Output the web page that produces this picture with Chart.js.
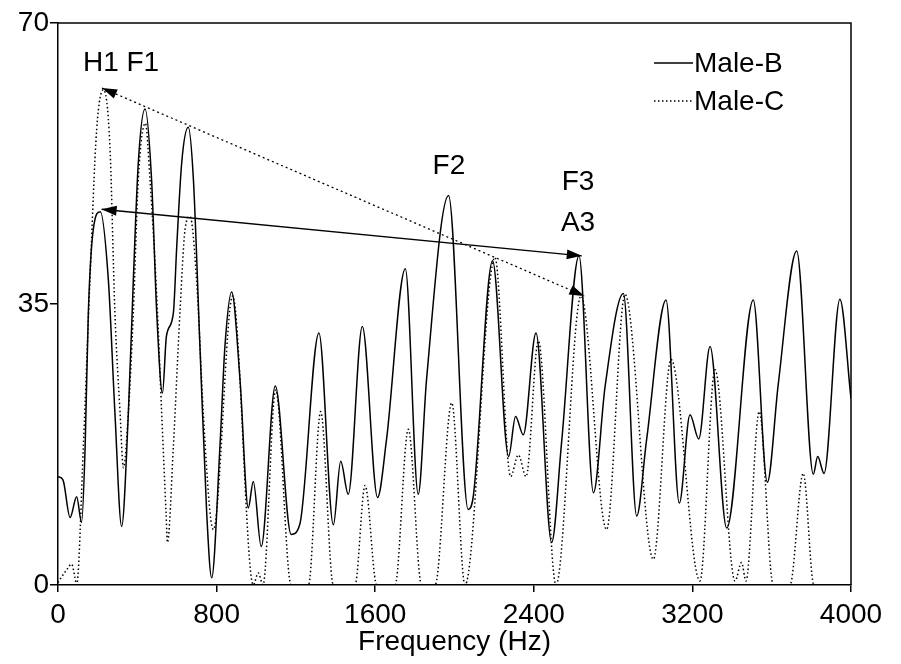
<!DOCTYPE html>
<html>
<head>
<meta charset="utf-8">
<script src="https://cdn.jsdelivr.net/npm/chart.js@4.4.1/dist/chart.umd.min.js"></script>
<style>
html, body { margin: 0; padding: 0; background: #fff; }
</style>
</head>
<body>
<canvas id="spectrumChart" width="901" height="664"></canvas>
<script>
// Male-B (solid) spectrum, frequency in Hz / amplitude
var freqB = [0, 25, 61, 94, 119, 137, 153, 178, 213, 254, 287, 321, 355, 380, 405, 439, 472, 498, 527, 547,
  582, 599, 624, 657, 683, 716, 750, 775, 817, 842, 876, 918, 960, 985, 1025, 1096, 1176, 1220, 1316, 1389,
  1426, 1464, 1535, 1612, 1657, 1752, 1817, 1859, 1970, 2069, 2095, 2192, 2273, 2308, 2347, 2411, 2490, 2540, 2628, 2701,
  2760, 2852, 2919, 2969, 3067, 3134, 3188, 3232, 3289, 3373, 3507, 3578, 3633, 3726, 3810, 3832, 3864, 3944, 4000];
var maleB = [13.5, 13.1, 8.4, 11.0, 7.8, 17.3, 33.9, 44.3, 46.5, 38.0, 21.5, 7.3, 21.5, 38.0, 52.6, 59.3, 50.5, 33.9, 23.9, 31.0,
  33.9, 42.2, 52.6, 57.0, 50.5, 29.7, 9.0, 0.9, 17.3, 29.7, 36.5, 25.6, 9.6, 12.9, 4.8, 24.8, 6.3, 7.6, 31.4, 7.5,
  15.4, 11.3, 32.2, 10.9, 18.1, 39.4, 11.3, 25.6, 48.5, 9.4, 11.1, 40.4, 16.0, 21.0, 18.7, 31.4, 5.3, 17.7, 41.0, 11.5,
  24.8, 36.3, 8.6, 18.1, 35.5, 10.2, 21.2, 18.2, 29.7, 7.1, 35.5, 12.8, 25.0, 41.6, 13.8, 16.0, 13.9, 35.6, 23.2];

// Male-C (dotted) spectrum
var freqC = [0, 10, 44, 69, 85, 94, 128, 161, 195, 229, 262, 287, 313, 330, 355, 380, 405, 441, 464, 498,
  523, 545, 552, 582, 615, 641, 666, 699, 733, 767, 784, 881, 985, 1010, 1034, 1098, 1176, 1263, 1325, 1389,
  1498, 1549, 1608, 1700, 1767, 1834, 1902, 1986, 2053, 2204, 2283, 2322, 2361, 2423, 2512, 2638, 2767, 2860, 3003, 3092,
  3238, 3314, 3415, 3448, 3470, 3537, 3608, 3692, 3759, 3813, 4000];
var maleC = [0.3, 0.7, 1.9, 2.6, 1.0, 0, 17.3, 38.0, 56.7, 61.7, 54.6, 34.0, 21.5, 14.6, 21.5, 33.9, 50.5, 57.5, 50.5, 36.0,
  21.4, 9.0, 5.3, 17.3, 33.9, 44.3, 45.9, 38.0, 21.4, 9.0, 6.9, 36.0, 0, 1.5, 0, 24.3, 0, 0, 21.6, 0,
  0, 12.4, 0, 0, 19.4, 0, 0, 22.7, 0, 40.8, 13.5, 16.2, 13.5, 30.4, 0, 36.0, 6.9, 36.2, 3.2, 28.1,
  0.5, 26.8, 0.5, 2.8, 0.5, 21.6, 0, 0, 13.9, 0, 0];

var xTicks = [0, 800, 1600, 2400, 3200, 4000];
var yTicks = [0, 35, 70];

// peak annotations (Hz, amplitude)
var peakLabels = ['H1 F1', 'F2', 'F3', 'A3'];
var peakLabelFreq = [318, 1972, 2623, 2623];
var peakLabelAmp = [65.0, 52.1, 50.2, 45.0];

// double arrows between peaks [Hz, amplitude]
var arrowB = [[220, 46.8], [2642, 41.0]];
var arrowC = [[222, 61.9], [2655, 36.0]];

var FONT = "'Liberation Sans', Arial, sans-serif";

function toPoints(xs, ys) {
  return xs.map(function (x, i) { return { x: x, y: ys[i] }; });
}

function arrowHead(ctx, tx, ty, fx, fy) {
  var ang = Math.atan2(ty - fy, tx - fx);
  var len = 15, half = 5;
  ctx.beginPath();
  ctx.moveTo(tx, ty);
  ctx.lineTo(tx - len * Math.cos(ang) + half * Math.sin(ang), ty - len * Math.sin(ang) - half * Math.cos(ang));
  ctx.lineTo(tx - len * Math.cos(ang) - half * Math.sin(ang), ty - len * Math.sin(ang) + half * Math.cos(ang));
  ctx.closePath();
  ctx.fill();
}

function drawArrow(ctx, xs, ys, ends, dash) {
  var x1 = xs.getPixelForValue(ends[0][0]), y1 = ys.getPixelForValue(ends[0][1]);
  var x2 = xs.getPixelForValue(ends[1][0]), y2 = ys.getPixelForValue(ends[1][1]);
  ctx.save();
  ctx.strokeStyle = '#000';
  ctx.fillStyle = '#000';
  ctx.lineWidth = 1.3;
  ctx.setLineDash(dash);
  ctx.beginPath();
  ctx.moveTo(x1, y1);
  ctx.lineTo(x2, y2);
  ctx.stroke();
  ctx.setLineDash([]);
  arrowHead(ctx, x1, y1, x2, y2);
  arrowHead(ctx, x2, y2, x1, y1);
  ctx.restore();
}

var extras = {
  id: 'extras',
  afterDatasetsDraw: function (chart) {
    var ctx = chart.ctx;
    var a = chart.chartArea;
    var xs = chart.scales.x, ys = chart.scales.y;

    // top and right frame
    ctx.save();
    ctx.strokeStyle = '#000';
    ctx.lineWidth = 1.5;
    ctx.beginPath();
    ctx.moveTo(a.left, a.top);
    ctx.lineTo(a.right, a.top);
    ctx.lineTo(a.right, a.bottom);
    ctx.stroke();
    ctx.restore();

    drawArrow(ctx, xs, ys, arrowB, []);
    drawArrow(ctx, xs, ys, arrowC, [2, 3]);

    ctx.save();
    ctx.fillStyle = '#000';
    ctx.font = '28px ' + FONT;
    ctx.textAlign = 'center';
    ctx.textBaseline = 'middle';
    peakLabels.forEach(function (t, i) {
      ctx.fillText(t, xs.getPixelForValue(peakLabelFreq[i]), ys.getPixelForValue(peakLabelAmp[i]));
    });

    // legend, top right
    ctx.textAlign = 'left';
    chart.data.datasets.forEach(function (ds, i) {
      var y = 63 + i * 38;
      ctx.strokeStyle = '#000';
      ctx.lineWidth = 1.3;
      ctx.setLineDash(ds.borderDash || []);
      ctx.beginPath();
      ctx.moveTo(654, y);
      ctx.lineTo(693, y);
      ctx.stroke();
      ctx.setLineDash([]);
      ctx.fillText(ds.label, 694, y + 1);
    });
    ctx.restore();
  }
};

var ctx = document.getElementById('spectrumChart').getContext('2d');
var spectrumChart = new Chart(ctx, {
  type: 'line',
  data: {
    datasets: [{
      label: 'Male-B',
      data: toPoints(freqB, maleB),
      borderColor: '#000',
      borderWidth: 1.5,
      pointRadius: 0,
      cubicInterpolationMode: 'monotone'
    }, {
      label: 'Male-C',
      data: toPoints(freqC, maleC),
      borderColor: '#000',
      borderWidth: 1.5,
      borderDash: [1.5, 2.5],
      pointRadius: 0,
      cubicInterpolationMode: 'monotone'
    }]
  },
  options: {
    responsive: false,
    animation: false,
    devicePixelRatio: 1,
    layout: { padding: { top: 23, right: 50, left: 0, bottom: 0 } },
    plugins: { legend: { display: false }, tooltip: { enabled: false } },
    scales: {
      x: {
        type: 'linear',
        min: 0,
        max: 4000,
        afterBuildTicks: function (s) { s.ticks = xTicks.map(function (v) { return { value: v }; }); },
        afterFit: function (s) { s.height = 79; },
        ticks: { color: '#000', padding: 6, maxRotation: 0, font: { family: FONT, size: 28 },
          callback: function (v) { return String(v); } },
        grid: { drawOnChartArea: false, drawTicks: true, tickLength: 7, color: '#000', lineWidth: 1.5 },
        border: { display: true, color: '#000', width: 1.5 },
        title: { display: true, text: 'Frequency (Hz)', color: '#000', font: { family: FONT, size: 28 }, padding: { top: 0, bottom: 5 } }
      },
      y: {
        min: 0,
        max: 70,
        afterBuildTicks: function (s) { s.ticks = yTicks.map(function (v) { return { value: v }; }); },
        afterFit: function (s) { s.width = 58; },
        ticks: { color: '#000', padding: 1, font: { family: FONT, size: 28 },
          callback: function (v) { return String(v); } },
        grid: { drawOnChartArea: false, drawTicks: true, tickLength: 8, color: '#000', lineWidth: 1.5 },
        border: { display: true, color: '#000', width: 1.5 }
      }
    }
  },
  plugins: [extras]
});
</script>
</body>
</html>
